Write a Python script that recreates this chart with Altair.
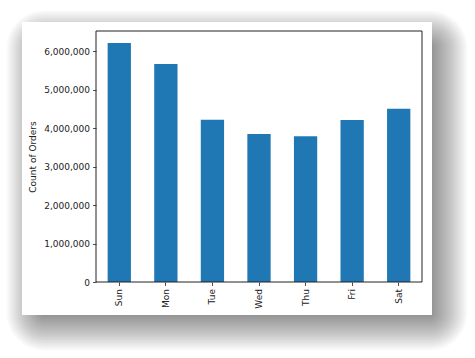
import altair as alt
import pandas as pd

days = ["Sun", "Mon", "Tue", "Wed", "Thu", "Fri", "Sat"]
counts = [6209666, 5665856, 4217798, 3844117, 3787215, 4209533, 4500304]
y_ticks = [0, 1000000, 2000000, 3000000, 4000000, 5000000, 6000000]

df = pd.DataFrame({"day": days, "count": counts})

W, H = 326, 251
FONT = "DejaVu Sans"
one = alt.InlineData(values=[{"k": 1}])

# card (in plot-area pixel coordinates)
cx0, cy0, cx1, cy1 = -74, -9, 336, 284

layers = []
# soft drop shadow
N, step, a = 26, 1.5, 0.021
sx0, sy0, sx1, sy1 = cx0 + 12 + 10, cy0 + 14 + 12, cx1 - 12 + 10, cy1 - 14 + 12
for i in range(N):
    e = i * step
    layers.append(
        alt.Chart(one).mark_rect(color="black", opacity=a, cornerRadius=e).encode(
            x=alt.value(sx0 - e), x2=alt.value(sx1 + e),
            y=alt.value(sy0 - e), y2=alt.value(sy1 + e),
        )
    )
# white card
layers.append(
    alt.Chart(one).mark_rect(color="white").encode(
        x=alt.value(cx0), x2=alt.value(cx1), y=alt.value(cy0), y2=alt.value(cy1)
    )
)

bars = alt.Chart(df).mark_bar(color="#1f77b4").encode(
    x=alt.X(
        "day:N", sort=days, title=None,
        scale=alt.Scale(paddingInner=0.5, paddingOuter=0.25),
        axis=alt.Axis(labelAngle=270, labelAlign="right", labelBaseline="middle",
                      labelPadding=3, tickSize=3.5, domain=False, zindex=2),
    ),
    y=alt.Y(
        "count:Q", title="Count of Orders",
        scale=alt.Scale(domain=[0, 6520149], nice=False),
        axis=alt.Axis(values=y_ticks, format=",d", tickSize=3.5, labelPadding=3,
                      titlePadding=6, domain=False, grid=False, zindex=2),
    ),
)
layers.append(bars)

frame = alt.Chart(one).mark_rect(fill=None, stroke="#222", strokeWidth=1).encode(
    x=alt.value(0), x2=alt.value(W), y=alt.value(0), y2=alt.value(H)
)
layers.append(frame)

chart = alt.layer(*layers).properties(
    width=W, height=H,
    autosize=alt.AutoSizeParams(type="none"),
    padding={"left": 96, "top": 31, "right": 53, "bottom": 76},
    background="white",
).configure_view(stroke=None).configure_axis(
    labelFont=FONT, titleFont=FONT, labelFontSize=9, titleFontSize=9,
    labelColor="#222", titleColor="#222", titleFontWeight="normal",
    tickColor="#222", tickWidth=0.8, grid=False,
)

chart.save("out.html", embed_options={"renderer": "svg", "actions": False})
